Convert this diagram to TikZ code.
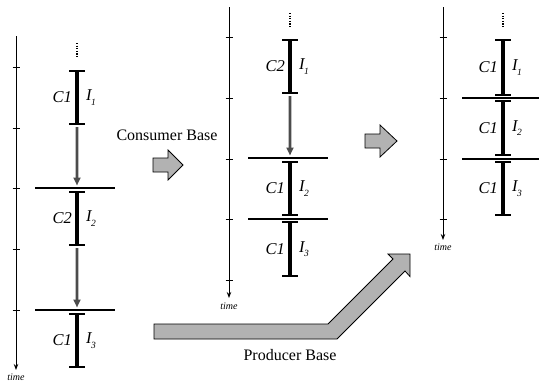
\documentclass[tikz,border=0pt]{standalone}
\usepackage{fontspec}
\setmainfont{Liberation Serif}
\usetikzlibrary{arrows.meta,calc}
\tikzset{
  axisline/.style={line width=1pt,-{Stealth[length=6pt,width=4.5pt]}},
  tickmark/.style={line width=0.8pt},
  ivbar/.style={line width=3.8pt},
  ivcap/.style={line width=1.3pt},
  sepline/.style={line width=1.2pt},
  flowarrow/.style={line width=2.8pt,draw=black!70,-{Triangle[length=8pt,width=7pt]}},
  dotsline/.style={line width=1.6pt,dash pattern=on 1.2pt off 1.4pt},
  clab/.style={font=\fontsize{16.5}{19}\selectfont\itshape,inner sep=0pt},
  timelab/.style={font=\fontsize{10}{12}\selectfont\itshape,inner sep=0pt},
  baselab/.style={font=\fontsize{16}{19}\selectfont,inner sep=0pt},
  blockarrow/.style={fill=black!30,draw=black,line width=0.8pt,line join=miter},
}
\newcommand\ivl[6]{%
  \coordinate (#1t) at (#2,#3);
  \coordinate (#1b) at (#2,#4);
  \draw[ivbar] (#1t) -- (#1b);
  \draw[ivcap] ([xshift=-8pt]#1t) -- ([xshift=8pt]#1t);
  \draw[ivcap] ([xshift=-8pt]#1b) -- ([xshift=8pt]#1b);
  \node[clab,anchor=east] (#1c) at ($(#1t)!0.5!(#1b)+(-5,0)$) {#5};
  \node[clab,anchor=west] (#1i) at ($(#1t)!0.5!(#1b)+(9,0)$) {I\kern-0.5pt\raisebox{-4.5pt}{\fontsize{9.5}{10}\selectfont #6}};
}
\begin{document}
\begin{tikzpicture}[x=1pt,y=-1pt]
\useasboundingbox (0,0) rectangle (539,386);

% ---------- panel 1 ----------
\coordinate (ax1t) at (16,36);
\coordinate (ax1b) at (16,370);
\draw[axisline] (ax1t) -- (ax1b);
\foreach \y in {67,128,188,249,310} \draw[tickmark] (12.5,\y) -- (19.5,\y);
\node[timelab] (time1) at (16,377.5) {time};
\coordinate (d1t) at (77,43); \coordinate (d1b) at (77,57);
\draw[dotsline] (d1t) -- (d1b);
\ivl{pa}{77}{71}{124}{C1}{1}
\coordinate (h1a) at (35,188); \coordinate (h1b) at (115,188);
\draw[sepline] (h1a) -- (h1b);
\ivl{pb}{77}{192}{245}{C2}{2}
\coordinate (h2a) at (35,310); \coordinate (h2b) at (115,310);
\draw[sepline] (h2a) -- (h2b);
\ivl{pc}{77}{314}{367}{C1}{3}
\draw[flowarrow] ([yshift=-3pt]pab) -- ([yshift=2.5pt]$(h1a)!0.525!(h1b)$);
\draw[flowarrow] ([yshift=-3pt]pbb) -- ([yshift=2.5pt]$(h2a)!0.525!(h2b)$);

% ---------- panel 2 ----------
\coordinate (ax2t) at (229,7);
\coordinate (ax2b) at (229,298);
\draw[axisline] (ax2t) -- (ax2b);
\foreach \y in {37,98,159,219,280} \draw[tickmark] (225.5,\y) -- (232.5,\y);
\node[timelab] (time2) at (229,306) {time};
\coordinate (d2t) at (290,13); \coordinate (d2b) at (290,27);
\draw[dotsline] (d2t) -- (d2b);
\ivl{qa}{290}{40}{93}{C2}{1}
\coordinate (h3a) at (248,158); \coordinate (h3b) at (328,158);
\draw[sepline] (h3a) -- (h3b);
\ivl{qb}{290}{162}{215}{C1}{2}
\coordinate (h4a) at (248,219); \coordinate (h4b) at (328,219);
\draw[sepline] (h4a) -- (h4b);
\ivl{qc}{290}{222}{276}{C1}{3}
\draw[flowarrow] ([yshift=-3pt]qab) -- ([yshift=2.5pt]$(h3a)!0.525!(h3b)$);

% ---------- panel 3 ----------
\coordinate (ax3t) at (443,7);
\coordinate (ax3b) at (443,240);
\draw[axisline] (ax3t) -- (ax3b);
\foreach \y in {37,98,159,219} \draw[tickmark] (439.5,\y) -- (446.5,\y);
\node[timelab] (time3) at (443,247) {time};
\coordinate (d3t) at (503,13); \coordinate (d3b) at (503,27);
\draw[dotsline] (d3t) -- (d3b);
\ivl{ra}{503}{40}{95}{C1}{1}
\coordinate (h5a) at (462,98); \coordinate (h5b) at (539,98);
\draw[sepline] (h5a) -- (h5b);
\ivl{rb}{503}{101}{155}{C1}{2}
\coordinate (h6a) at (462,159); \coordinate (h6b) at (539,159);
\draw[sepline] (h6a) -- (h6b);
\ivl{rc}{503}{162}{215}{C1}{3}

% ---------- block arrows ----------
\node[baselab] (cons) at (167,135) {Consumer Base};
\draw[blockarrow] (153,158) -- (168,158) -- (168,150) -- (183,165) -- (168,180) -- (168,172) -- (153,172) -- cycle;
\draw[blockarrow] (365,134) -- (380,134) -- (380,125) -- (397,141) -- (380,157) -- (380,148) -- (365,148) -- cycle;
\draw[blockarrow] (154,324) -- (328,324) -- (393,259) -- (388,254) -- (410,254) -- (410,276.5) -- (405,271) -- (337,339) -- (154,339) -- cycle;
\node[baselab] (prod) at (290,355) {Producer Base};
\end{tikzpicture}
\end{document}
